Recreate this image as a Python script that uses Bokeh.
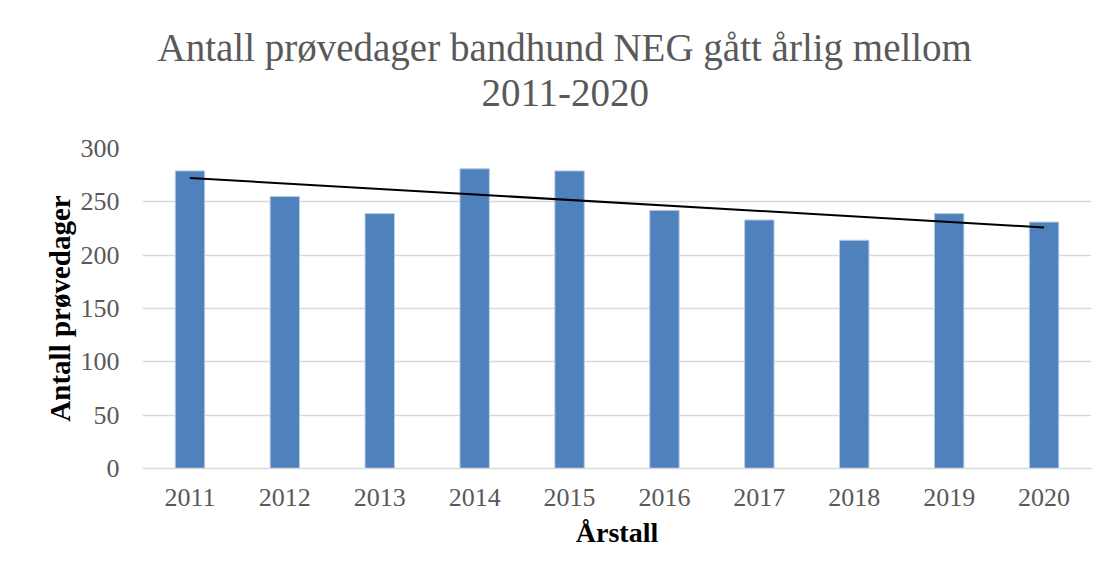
import numpy as np
from bokeh.plotting import figure
from bokeh.models import FactorRange, Range1d, Title, FixedTicker
from bokeh.embed import file_html
from bokeh.resources import INLINE

years = ["2011", "2012", "2013", "2014", "2015", "2016", "2017", "2018", "2019", "2020"]
values = [279, 255, 239, 281, 279, 242, 233, 214, 239, 231]
y_ticks = [0, 50, 100, 150, 200, 250, 300]
title_line1 = "Antall prøvedager bandhund NEG gått årlig mellom"
title_line2 = "2011-2020"
x_label = "Årstall"
y_label = "Antall prøvedager"

# linear trend line (least squares over category index)
idx = np.arange(1, len(values) + 1)
slope, intercept = np.polyfit(idx, values, 1)
trend = [float(intercept + slope * i) for i in (idx[0], idx[-1])]

FONT = "Liberation Serif"
GREY = "#595959"

p = figure(
    x_range=FactorRange(*years, range_padding=0),
    y_range=Range1d(0, 300),
    width=1108, height=570,
    output_backend="svg", toolbar_location=None,
    min_border_left=142, min_border_right=17,
    min_border_top=148, min_border_bottom=102,
)
p.title = None
t2 = Title(text=title_line2, align="left", text_font=FONT, text_font_size="39px",
           text_font_style="normal", text_color=GREY, offset=339, standoff=85)
t1 = Title(text=title_line1, align="left", text_font=FONT, text_font_size="39px",
           text_font_style="normal", text_color=GREY, offset=15, standoff=-66)
p.add_layout(t2, "above")
p.add_layout(t1, "above")

p.vbar(x=years, top=values, width=0.31, fill_color="#4F81BD", line_color="#b8cce4", line_width=1)
p.line(x=[years[0], years[-1]], y=trend, line_color="black", line_width=2)

p.outline_line_color = None
p.background_fill_color = "white"
p.border_fill_color = "white"
p.xgrid.grid_line_color = None
p.ygrid.grid_line_color = "#d9d9d9"
p.ygrid.grid_line_width = 1.5
p.yaxis.ticker = FixedTicker(ticks=y_ticks)

for ax in (p.xaxis[0], p.yaxis[0]):
    ax.major_tick_line_color = None
    ax.minor_tick_line_color = None
    ax.major_label_text_font = FONT
    ax.major_label_text_font_size = "26px"
    ax.major_label_text_color = GREY
    ax.axis_label_text_font = FONT
    ax.axis_label_text_font_style = "bold"
    ax.axis_label_text_color = "black"

p.xaxis.axis_line_color = "#d9d9d9"
p.xaxis.axis_line_width = 1.5
p.yaxis.axis_line_color = None
p.xaxis.axis_label = x_label
p.yaxis.axis_label = y_label
p.xaxis.axis_label_text_font_size = "28px"
p.yaxis.axis_label_text_font_size = "29px"
p.xaxis.major_label_standoff = 14
p.yaxis.major_label_standoff = 17
p.xaxis.axis_label_standoff = 8
p.yaxis.axis_label_standoff = 2

open("out.html", "w").write(file_html(p, INLINE))
